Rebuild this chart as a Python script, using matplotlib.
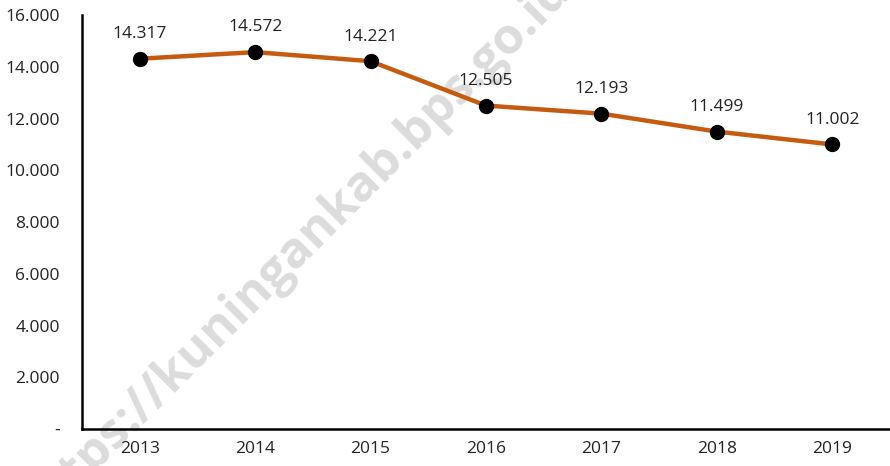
import matplotlib.pyplot as plt

plt.rcParams["font.family"] = ["Open Sans", "DejaVu Sans"]

years = ["2013", "2014", "2015", "2016", "2017", "2018", "2019"]
values = [14317, 14572, 14221, 12505, 12193, 11499, 11002]
y_ticks = [0, 2000, 4000, 6000, 8000, 10000, 12000, 14000, 16000]

LINE_COLOR = "#C55A11"


def fmt_id(v):
    # Indonesian style thousands separator
    if v == 0:
        return "-"
    return f"{v:,.0f}".replace(",", ".")


fig = plt.figure(figsize=(8.9, 4.66), dpi=100)
ax = fig.add_axes([0.0921, 0.0794, 0.9079, 0.888])
ax.set_facecolor("none")

x = list(range(len(years)))
ax.plot(x, values, color=LINE_COLOR, linewidth=3.2, zorder=3)
ax.plot(x, values, "o", color="black", markersize=10, zorder=4)

for xi, v in zip(x, values):
    ax.annotate(fmt_id(v), (xi, v), xytext=(0, 12), textcoords="offset points",
                ha="center", va="bottom", fontsize=12.5, color="#222222", zorder=5)

ax.set_xlim(-0.5, len(years) - 0.5)
ax.set_ylim(0, 16000)
ax.set_xticks(x)
ax.set_xticklabels(years, fontsize=12.5)
ax.set_yticks(y_ticks)
ax.set_yticklabels([fmt_id(t) for t in y_ticks], fontsize=12.5)
ax.tick_params(length=0, pad=16, colors="#222222")
ax.tick_params(axis="x", pad=9)

for side in ["top", "right"]:
    ax.spines[side].set_visible(False)
for side in ["left", "bottom"]:
    ax.spines[side].set_linewidth(1.8)
    ax.spines[side].set_color("black")

# watermark, drawn behind the axes content
fig.text(0.333, 0.465, "https://kuningankab.bps.go.id", rotation=45,
         ha="center", va="center", fontsize=36, fontweight="bold",
         color="#dcdcdc", zorder=-1)

fig.savefig("out.png", dpi=100)
